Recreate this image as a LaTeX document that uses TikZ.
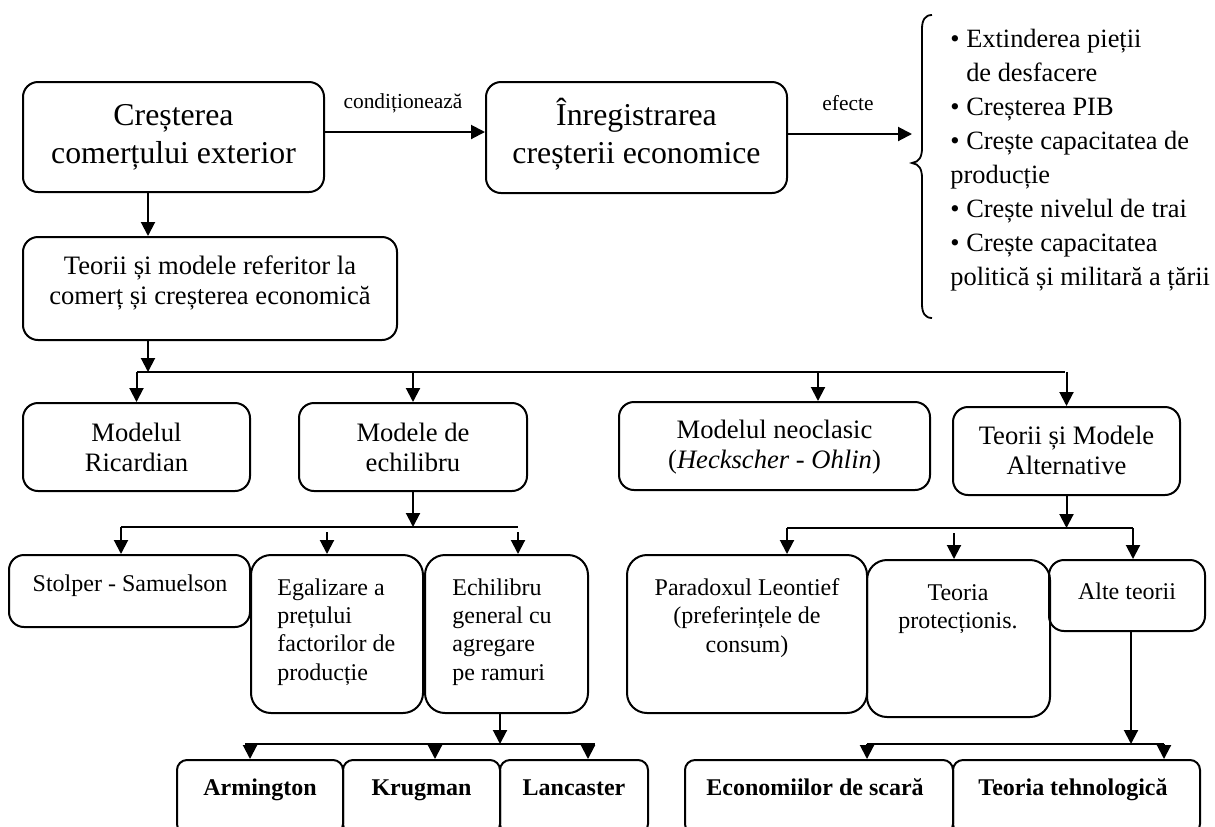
\documentclass[tikz,border=0pt]{standalone}
\usepackage{fontspec}
\setmainfont{Liberation Serif}
\usetikzlibrary{arrows.meta,fit}
\begin{document}
\begin{tikzpicture}[x=0.5pt,y=-0.5pt,
  box/.style={draw,line width=1pt,rounded corners=7.5pt,inner sep=0pt},
  bigbox/.style={box,rounded corners=10pt},
  smallbox/.style={box,rounded corners=5pt},
  arr/.style={line width=1pt,-{Triangle[length=7pt,width=7pt]}},
  ln/.style={line width=1pt},
  fA/.style={font=\fontsize{15.9}{19}\selectfont,align=center,inner sep=0pt},
  fB/.style={font=\fontsize{13.3}{15}\selectfont,align=center,inner sep=0pt},
  fC/.style={font=\fontsize{12}{14.2}\selectfont,inner sep=0pt},
  fD/.style={font=\bfseries\fontsize{12}{14.2}\selectfont,inner sep=0pt,anchor=base},
  fE/.style={font=\fontsize{13.2}{17}\selectfont,inner sep=0pt},
  fL/.style={font=\fontsize{10.7}{12}\selectfont,inner sep=0pt},
]
\useasboundingbox (0,0) rectangle (1215,826);
\clip (0,0) rectangle (1215,826);

% boxes
\node[box,fit={(23,82)(324,192)}] (b1) {};
\node[box,fit={(486,82)(787,193)}] (b2) {};
\node[box,fit={(23,237)(397,340)}] (b3) {};
\node[box,fit={(23,403)(250,491)}] (ric) {};
\node[box,fit={(299,403)(527,491)}] (mec) {};
\node[box,fit={(619,402)(930,490)}] (neo) {};
\node[box,fit={(953,407)(1180,495)}] (alt) {};
\node[box,fit={(9,555)(250,627)}] (sto) {};
\node[bigbox,fit={(251,555)(423,713)}] (ega) {};
\node[bigbox,fit={(425,555)(588,713)}] (ech) {};
\node[bigbox,fit={(627,555)(867,713)}] (par) {};
\node[bigbox,fit={(867,560)(1050,717)}] (pro) {};
\node[box,fit={(1049,560)(1205,631)}] (alte) {};
\node[smallbox,fit={(177,760)(343,834)}] (arm) {};
\node[smallbox,fit={(343,760)(500,834)}] (kru) {};
\node[smallbox,fit={(500,760)(648,834)}] (lan) {};
\node[smallbox,fit={(685,760)(953,834)}] (eco) {};
\node[smallbox,fit={(953,760)(1200,834)}] (teh) {};

% texts
\node[fA] (b1t) at (173.5,137) {Creșterea\\comerțului exterior};
\node[fA] (b2t) at (636.5,134) {Înregistrarea\\creșterii economice};
\node[fB] (b3t) at (210,283) {Teorii și modele referitor la\\comerț și creșterea economică};
\node[fB] (rict) at (136.5,447) {Modelul\\Ricardian};
\node[fB] (mect) at (413,447) {Modele de\\echilibru};
\node[fB] (neot) at (774.5,447) {Modelul neoclasic\\(\textit{Heckscher - Ohlin})};
\node[fB] (altt) at (1066.5,450) {Teorii și Modele\\Alternative};
\node[fC] (stot) at (130,586) {Stolper - Samuelson};
\node[fC,align=left,anchor=west] (egat) at (277,632) {Egalizare a\\prețului\\factorilor de\\producție};
\node[fC,align=left,anchor=west] (echt) at (452,632) {Echilibru\\general cu\\agregare\\pe ramuri};
\node[fC,align=center] (part) at (747,618) {Paradoxul Leontief\\(preferințele de\\consum)};
\node[fC,align=center] (prot) at (958,609) {Teoria\\protecționis.};
\node[fC] (altet) at (1127,591) {Alte teorii};
\node[fD] (armt) at (260,795) {Armington};
\node[fD] (krut) at (421.5,795) {Krugman};
\node[fD] (lant) at (574,795) {Lancaster};
\node[fD] (ecot) at (815,795) {Economiilor de scară};
\node[fD] (teht) at (1073,795) {Teoria tehnologică};
\node[fL] (cond) at (403,103) {condiționează};
\node[fL] (efe) at (848,103) {efecte};
\node[fE,align=left,anchor=west] (lst) at (950,160) {• Extinderea pieții\\\hphantom{•}\ de desfacere\\• Creșterea PIB\\• Crește capacitatea de\\producție\\• Crește nivelul de trai\\• Crește capacitatea\\politică și militară a țării};

% top connectors
\coordinate (yc) at (0,132);
\coordinate (ye) at (0,134);
\coordinate (cusp) at (912,163);
\coordinate (pB) at (148,215);
\draw[arr] (b1.east |- yc) -- (b2.west |- yc);
\draw[arr] (b2.east |- ye) -- (cusp |- ye);
\draw[arr] (b1.south -| pB) -- (b3.north -| pB);
% brace
\draw[line width=0.9pt] (932,15) .. controls (925,15) and (922,20) .. (922,29) -- (922,148)
  .. controls (922,157) and (919,162) .. (cusp) .. controls (919,164) and (922,169) .. (922,178)
  -- (922,304) .. controls (922,313) and (925,318) .. (932,318);

% bus A
\coordinate (busA) at (137,372);
\coordinate (busAe) at (1065,372);
\coordinate (pA) at (148,372);
\coordinate (pN) at (818,372);
\draw[ln] (busA) -- (busAe);
\draw[arr] (b3.south -| pA) -- (pA);
\draw[arr] (ric.north |- busA) -- (ric.north);
\draw[arr] (mec.north |- busA) -- (mec.north);
\draw[arr] (pN) -- (pN |- neo.north);
\draw[arr] (alt.north |- busA) -- (alt.north);

% bus B
\coordinate (bB1) at (121,527);
\coordinate (bB2) at (518,527);
\coordinate (eB) at (327,532);
\coordinate (hB) at (518,532);
\draw[ln] (bB1) -- (bB2);
\draw[arr] (mec.south) -- (mec.south |- bB1);
\draw[arr] (bB1) -- (bB1 |- sto.north);
\draw[arr] (eB) -- (eB |- ega.north);
\draw[arr] (hB) -- (hB |- ech.north);

% bus C
\coordinate (bC1) at (787,528);
\coordinate (bC2) at (1133,528);
\coordinate (tC) at (954,533);
\draw[ln] (bC1) -- (bC2);
\draw[arr] (alt.south) -- (alt.south |- bC1);
\draw[arr] (bC1) -- (bC1 |- par.north);
\draw[arr] (tC) -- (tC |- pro.north);
\draw[arr] (bC2) -- (bC2 |- alte.north);

% bus D
\coordinate (bD1) at (245,744);
\coordinate (bD2) at (595,744);
\coordinate (dD) at (500,744);
\coordinate (aD1) at (250,744);
\coordinate (aD2) at (435,744);
\coordinate (aD3) at (588,744);
\draw[ln] (bD1) -- (bD2);
\draw[arr] (dD |- ech.south) -- (dD);
\draw[arr] (aD1) -- (aD1 |- arm.north);
\draw[arr] (aD2) -- (aD2 |- kru.north);
\draw[arr] (aD3) -- (aD3 |- lan.north);

% bus E
\coordinate (bE1) at (867,744);
\coordinate (bE2) at (1164,744);
\coordinate (eE) at (1131,744);
\draw[ln] (bE1) -- (bE2);
\draw[arr] (eE |- alte.south) -- (eE);
\draw[arr] (bE1) -- (bE1 |- eco.north);
\draw[arr] (bE2) -- (bE2 |- teh.north);
\end{tikzpicture}
\end{document}
